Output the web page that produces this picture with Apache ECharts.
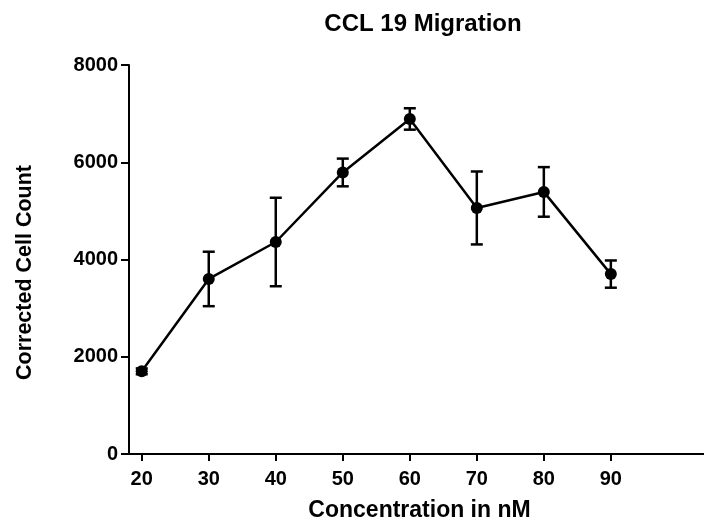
<!DOCTYPE html>
<html>
<head>
<meta charset="utf-8">
<script src="https://cdn.jsdelivr.net/npm/echarts@6/dist/echarts.min.js"></script>
<style>html,body{margin:0;padding:0;background:#fff}#c{width:704px;height:527px}</style>
</head>
<body>
<div id="c"></div>
<script>
const concentrations = [20, 30, 40, 50, 60, 70, 80, 90];
const meanCount = [1700, 3600, 4360, 5790, 6890, 5060, 5390, 3700];
const errCount = [60, 560, 910, 285, 220, 750, 510, 280];
const yTicks = [0, 2000, 4000, 6000, 8000];

const FONT = '"Liberation Sans", Arial, sans-serif';
const chart = echarts.init(document.getElementById('c'));

const points = concentrations.map((c, i) => [c, meanCount[i]]);
const errData = concentrations.map((c, i) => [c, meanCount[i] - errCount[i], meanCount[i] + errCount[i]]);

chart.setOption({
  animation: false,
  backgroundColor: '#fff',
  title: {
    text: 'CCL 19 Migration',
    left: 418, top: 7, textAlign: 'center',
    textStyle: {fontFamily: FONT, fontWeight: 'bold', fontSize: 24, color: '#000'}
  },
  grid: {left: 129, right: 0, top: 65, bottom: 73, containLabel: false},
  xAxis: {
    type: 'value', min: 18.1, max: 103.9,
    name: 'Concentration in nM', nameLocation: 'middle', nameGap: 45,
    nameTextStyle: {fontFamily: FONT, fontWeight: 'bold', fontSize: 23, color: '#000', padding: [0, 0, 0, 6]},
    axisLine: {onZero: false, lineStyle: {color: '#000', width: 2}},
    axisTick: {show: true, length: 7, lineStyle: {color: '#000', width: 2}, customValues: concentrations},
    axisLabel: {customValues: concentrations, margin: 15, fontFamily: FONT, fontWeight: 'bold', fontSize: 20, color: '#000'},
    splitLine: {show: false}
  },
  yAxis: {
    type: 'value', min: 0, max: 8000, interval: 2000,
    name: 'Corrected Cell Count', nameLocation: 'middle', nameGap: 93,
    nameTextStyle: {fontFamily: FONT, fontWeight: 'bold', fontSize: 21.5, color: '#000', padding: [0, 26, 0, 0]},
    axisLine: {show: true, lineStyle: {color: '#000', width: 2}},
    axisTick: {show: true, length: 8, lineStyle: {color: '#000', width: 2}},
    axisLabel: {customValues: yTicks, margin: 11, fontFamily: FONT, fontWeight: 'bold', fontSize: 20, color: '#000',
      formatter: v => String(v)},
    splitLine: {show: false}
  },
  series: [
    {
      type: 'custom',
      data: errData,
      z: 3,
      renderItem: function (params, api) {
        const x = api.value(0);
        const lo = api.coord([x, api.value(1)]);
        const hi = api.coord([x, api.value(2)]);
        const w = 6;
        const style = {stroke: '#000', lineWidth: 2.5};
        return {
          type: 'group',
          children: [
            {type: 'line', shape: {x1: lo[0], y1: lo[1], x2: hi[0], y2: hi[1]}, style},
            {type: 'line', shape: {x1: lo[0] - w, y1: lo[1], x2: lo[0] + w, y2: lo[1]}, style},
            {type: 'line', shape: {x1: hi[0] - w, y1: hi[1], x2: hi[0] + w, y2: hi[1]}, style}
          ]
        };
      }
    },
    {
      type: 'line',
      data: points,
      z: 4,
      symbol: 'circle',
      symbolSize: 12,
      lineStyle: {color: '#000', width: 2.5},
      itemStyle: {color: '#000'}
    }
  ]
});
</script>
</body>
</html>
